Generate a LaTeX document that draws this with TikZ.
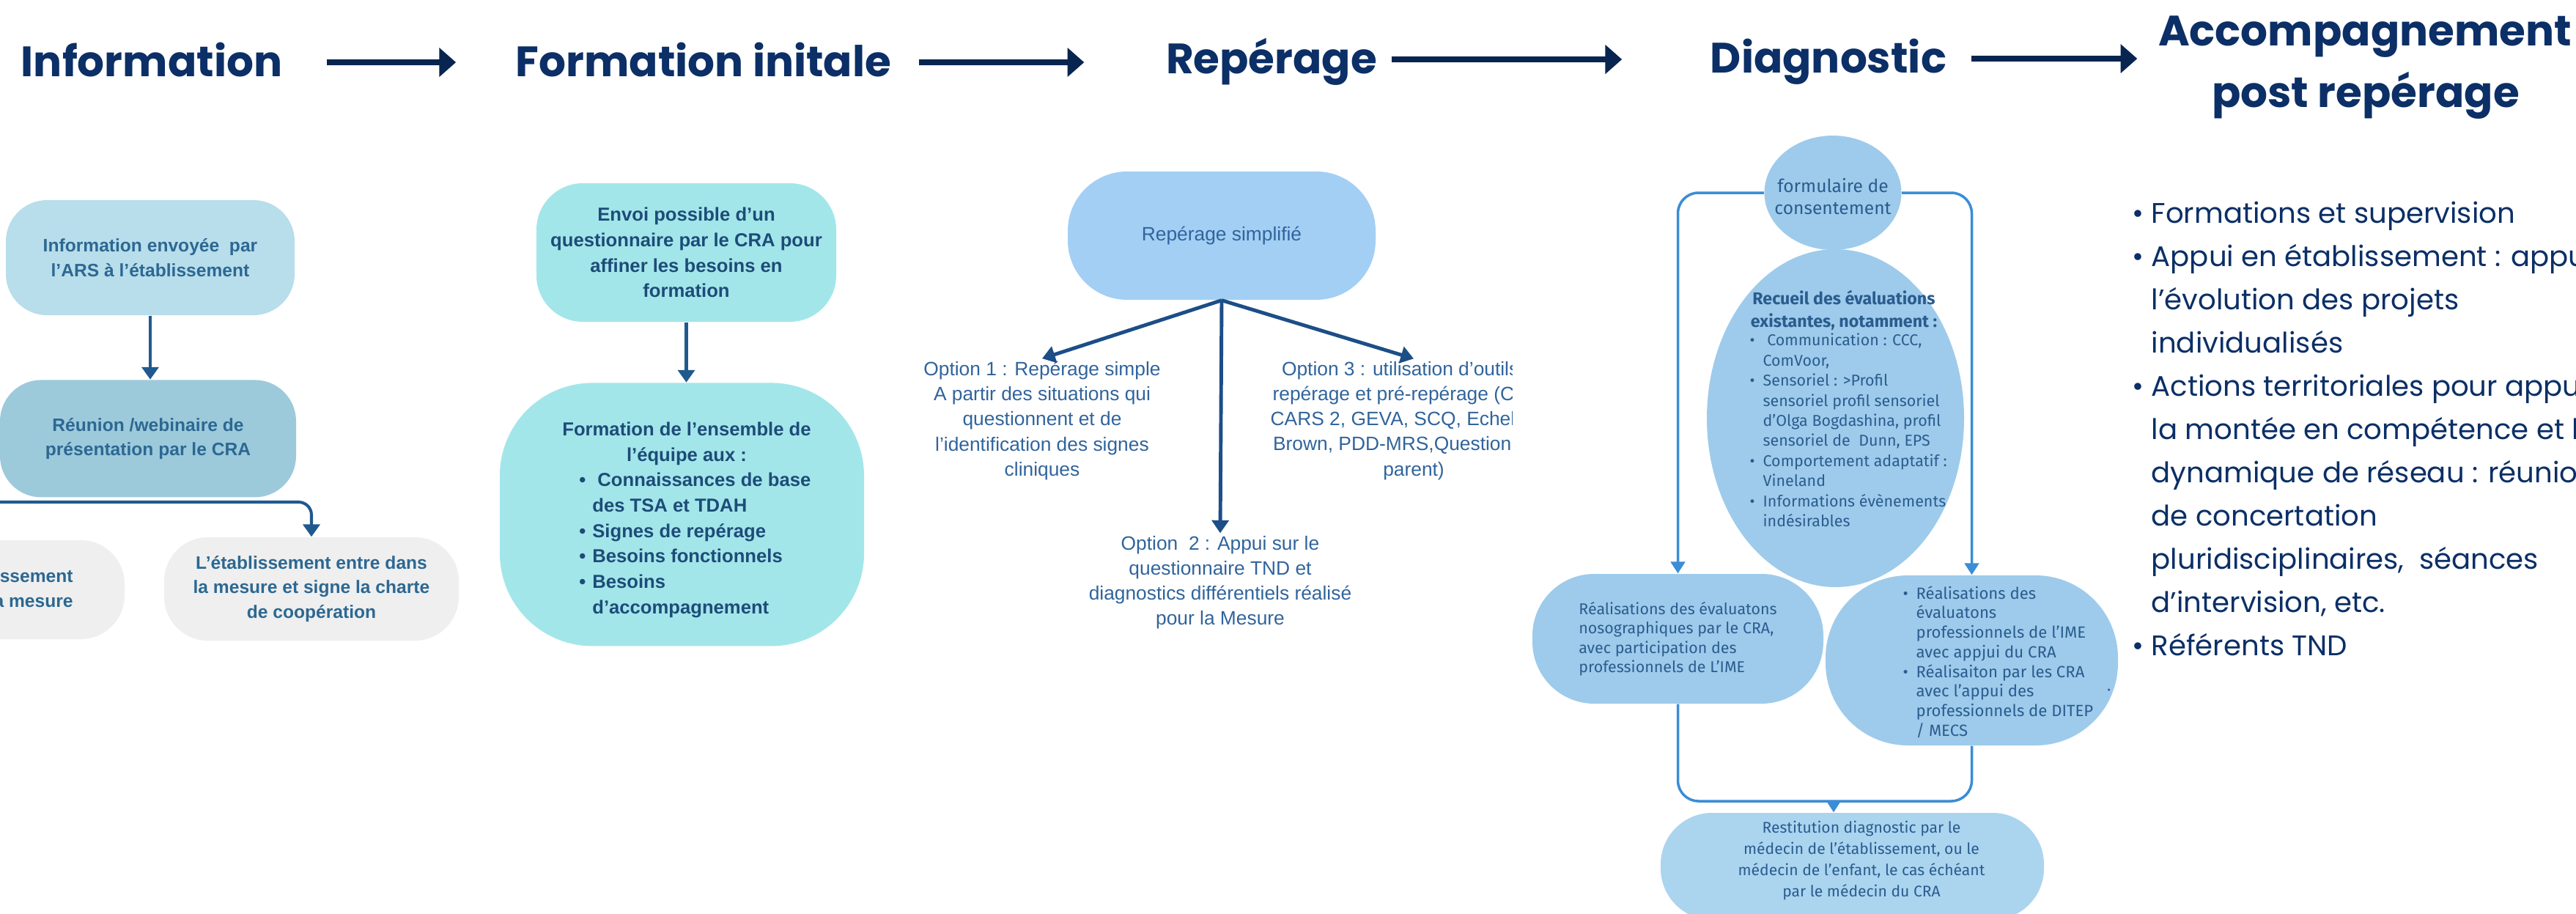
\documentclass[tikz,border=0pt]{standalone}
\usepackage{fontspec}
\usepackage{xcolor}
\usepackage{tikz}
\usetikzlibrary{positioning,shapes.geometric,arrows.meta}

\newfontfamily\headfont{Poppins}
\newfontfamily\boxfont{Liberation Sans}
\newfontfamily\diagfont{Fira Sans}

\definecolor{navy}{HTML}{0B2F66}
\definecolor{arrownavy}{HTML}{082550}
\definecolor{infoblue}{HTML}{B8DDEB}
\definecolor{infoteal}{HTML}{9DCADB}
\definecolor{infogrey}{HTML}{EFEFEF}
\definecolor{infoink}{HTML}{2C6892}
\definecolor{formcyan}{HTML}{A3E6EA}
\definecolor{formink}{HTML}{1D4C78}
\definecolor{flowblue}{HTML}{1F5A8E}
\definecolor{repblue}{HTML}{A3CFF4}
\definecolor{repink}{HTML}{30649C}
\definecolor{reparrow}{HTML}{1C4E87}
\definecolor{diagblue}{HTML}{9ECBEB}
\definecolor{restitblue}{HTML}{ABD4EF}
\definecolor{diagline}{HTML}{3A8DD6}
\definecolor{diagink}{HTML}{2A5C8F}

\newcommand{\itemdot}[1]{\makebox[#1][l]{\textbullet}}
\newcommand{\itemgap}[1]{\hspace*{#1}}

\begin{document}
\begin{tikzpicture}[
    head/.style={font=\headfont\bfseries\fontsize{16.5}{20}\selectfont, text=navy, anchor=base, inner sep=0pt, text height=10.8pt, text depth=0pt},
    steparrow/.style={draw=arrownavy, line width=2.3pt, -{Triangle[length=6.5pt, width=11pt]}},
    infotext/.style={align=center, text=infoink, font=\boxfont\bfseries\fontsize{7}{9.6}\selectfont},
    infobox/.style={infotext, rectangle, rounded corners=16pt, fill=infoblue, minimum width=3.94cm, minimum height=1.57cm},
    greybox/.style={infobox, fill=infogrey, rounded corners=17pt},
    formtext/.style={align=center, text=formink, font=\boxfont\bfseries\fontsize{7.3}{9.9}\selectfont},
    formbox/.style={formtext, rectangle, rounded corners=18pt, fill=formcyan},
    opttext/.style={align=center, text=repink, inner sep=1pt, font=\boxfont\fontsize{7.5}{9.7}\selectfont},
    repbox/.style={opttext, rectangle, rounded corners=23pt, fill=repblue, minimum width=4.2cm, minimum height=1.75cm},
    difftext/.style={text=diagink, inner sep=0pt, font=\diagfont\fontsize{6.3}{7.6}\selectfont},
    diagbox/.style={difftext, fill=diagblue, align=center},
    listtext/.style={align=left, text=navy, inner sep=0pt, font=\headfont\fontsize{11}{16.8}\selectfont},
    flow/.style={draw=flowblue, line width=1.15pt, -{Triangle[length=4.8pt, width=6.5pt]}},
    optarrow/.style={draw=reparrow, line width=1.4pt, -{Triangle[length=5pt, width=6.5pt]}},
    diagwire/.style={draw=diagline, line width=1pt, rounded corners=8pt},
    diagarrow/.style={diagwire, -{Triangle[length=4.5pt, width=5.5pt]}}
]

\path[use as bounding box, fill=white] (0,0) rectangle (35.15,-12.46);
\clip (0,0) rectangle (35.15,-12.46);

% steps
\node[head] (hinfo) at (2.07,-1.04) {Information};
\node[head] (hform) at (9.60,-1.04) {Formation initale};
\node[head] (hrep) at (17.35,-1.00) {Repérage};
\node[head] (hdiag) at (24.95,-0.99) {Diagnostic};
\node[head] (hacc) at (32.27,-0.62) {Accompagnement};
\node[head] (hpost) at (32.28,-1.46) {post repérage};

\draw[steparrow] ([xshift=0.60cm]hinfo.east) -- ([xshift=-0.81cm]hinfo.east -| hform.west);
\draw[steparrow] ([xshift=0.37cm]hform.east) -- ([xshift=-1.11cm]hform.east -| hrep.west);
\draw[steparrow] ([xshift=0.19cm]hrep.east) -- ([xshift=-1.20cm]hrep.east -| hdiag.west);
\draw[steparrow] ([xshift=0.33cm]hdiag.east) -- ([xshift=-0.28cm]hdiag.east -| hacc.west);

% information
\node[infobox] (info1) at (2.05,-3.515) {Information envoyée\ \ par\\l’ARS à l’établissement};
\node[infobox, fill=infoteal, minimum width=4.04cm, minimum height=1.6cm, below=0.87cm of info1, xshift=-0.03cm] (info2) {Réunion /webinaire de\\présentation par le CRA};
\coordinate (split) at (2.00,-6.85);
\node[greybox, minimum width=4.0cm, minimum height=1.35cm] (info3) at (-0.30,-8.045) {};
\node[infotext, align=right, anchor=east] (info3text) at (1.12,-8.05) {L’établissement\\n’entre pas dans la mesure};
\node[greybox, minimum width=4.02cm, minimum height=1.41cm] (info4) at (4.25,-8.035) {L’établissement entre dans\\la mesure et signe la charte\\de coopération};

\draw[flow] (info1.south) -- (info1.south |- info2.north);
\draw[flow, rounded corners=5pt] (split) -| (info4.north);
\draw[flow, rounded corners=5pt] (split) -| (info3.north);

% formation initiale
\node[formbox, minimum width=4.09cm, minimum height=1.89cm] (form1) at (9.365,-3.445) {Envoi possible d’un\\questionnaire par le CRA pour\\affiner les besoins en\\formation};
\node[formbox, rounded corners=36pt, minimum width=4.97cm, minimum height=3.59cm, below=0.82cm of form1, xshift=-0.06cm] (form2) {};
\node[formtext] (form2head) at (9.37,-6.055) {Formation de l’ensemble de\\l’équipe aux :};
\node[formtext, align=left, anchor=west] (form2list) at (7.78,-7.44) {\itemdot{5.1pt}\ Connaissances de base\\\itemgap{5.1pt}des TSA et TDAH\\\itemdot{5.1pt}Signes de repérage\\\itemdot{5.1pt}Besoins fonctionnels\\\itemdot{5.1pt}Besoins\\\itemgap{5.1pt}d’accompagnement};

\draw[flow] (form1.south) -- (form1.south |- form2.north);

% reperage
\node[repbox] (rep) at (16.67,-3.215) {Repérage simplifié};
\node[opttext] (opt1) at (14.22,-5.74) {Option 1 : Repérage simple\\A partir des situations qui\\questionnent et de\\l’identification des signes\\cliniques};
\node[opttext] (opt2) at (16.65,-7.95) {Option\ \ 2 : Appui sur le\\questionnaire TND et\\diagnostics différentiels réalisé\\pour la Mesure};
\begin{scope}
  \clip (17.1,-4.5) rectangle (20.63,-7.0);
  \node[opttext] (opt3) at (19.29,-5.74) {Option 3 : utilisation d’outils de\\repérage et pré-repérage (CHAT,\\CARS 2, GEVA, SCQ, Echelle de\\Brown, PDD-MRS,Questionnaire\\parent)};
\end{scope}

\draw[optarrow] (rep.south) -- (opt1.north);
\draw[optarrow] (rep.south) -- (opt2.north);
\draw[optarrow] (rep.south) -- (opt3.north);

% diagnostic
\node[diagbox, ellipse, minimum width=1.87cm, minimum height=1.56cm] (consent) at (25.01,-2.63) {};
\node[difftext, align=center, font=\diagfont\fontsize{7}{8.5}\selectfont] (consenttext) at ([yshift=-0.05cm]consent.center) {formulaire de\\consentement};
\node[diagbox, ellipse, minimum width=3.51cm, minimum height=4.61cm] (recueil) at (25.045,-5.705) {};
\node[difftext, align=center, font=\diagfont\bfseries\fontsize{6.6}{8.8}\selectfont] (recueilhead) at (25.16,-4.235) {Recueil des évaluations\\existantes, notamment :};
\node[difftext, align=left, anchor=west, font=\diagfont\fontsize{6.1}{7.8}\selectfont] (recueillist) at (23.87,-5.87) {\itemdot{5.1pt}\ Communication : CCC,\\\itemgap{5.1pt}ComVoor,\\\itemdot{5.1pt}Sensoriel : >Profil\\\itemgap{5.1pt}sensoriel profil sensoriel\\\itemgap{5.1pt}d’Olga Bogdashina, profil\\\itemgap{5.1pt}sensoriel de\ \ Dunn, EPS\\\itemdot{5.1pt}Comportement adaptatif :\\\itemgap{5.1pt}Vineland\\\itemdot{5.1pt}Informations évènements\\\itemgap{5.1pt}indésirables};

\node[diagbox, rounded corners=24pt, minimum width=3.97cm, minimum height=1.77cm, align=left, font=\diagfont\fontsize{6.1}{7.5}\selectfont] (real1) at (22.895,-8.715) {Réalisations des évaluatons\\nosographiques par le CRA,\\avec participation des\\professionnels de L’IME};
\node[diagbox, rounded corners=32pt, minimum width=3.99cm, minimum height=2.32cm] (real2) at (26.905,-9.01) {};
\node[difftext, align=left, anchor=west] (real2list) at (25.96,-9.03) {\itemdot{5.1pt}Réalisations des\\\itemgap{5.1pt}évaluatons\\\itemgap{5.1pt}professionnels de l’IME\\\itemgap{5.1pt}avec appjui du CRA\\\itemdot{5.1pt}Réalisaiton par les CRA\\\itemgap{5.1pt}avec l’appui des\\\itemgap{5.1pt}professionnels de DITEP\\\itemgap{5.1pt}/ MECS};
\fill[diagink] (28.775,-9.41) circle (0.5pt);

\node[diagbox, fill=restitblue, rounded corners=20pt, minimum width=5.23cm, minimum height=1.46cm] (restit) at (25.275,-11.82) {};
\node[difftext, align=center, font=\diagfont\fontsize{6.0}{8.3}\selectfont] (restittext) at (25.40,-11.74) {Restitution diagnostic par le\\médecin de l’établissement, ou le\\médecin de l’enfant, le cas échéant\\par le médecin du CRA};

\draw[diagarrow] (consent.west) -| (real1.north);
\draw[diagarrow] (consent.east) -| (real2.north);
\coordinate (join) at (25.02,-10.93);
\draw[diagwire] (real1.south) |- (join) -| (real2.south);
\draw[diagarrow] (join) -- (join |- restit.north);

% accompagnement
\node[listtext, anchor=west] (acclist) at (29.09,-5.85) {\itemdot{7.4pt}Formations et supervision\\\itemdot{7.4pt}Appui en établissement : appui à\\\itemgap{7.4pt}l’évolution des projets\\\itemgap{7.4pt}individualisés\\\itemdot{7.4pt}Actions territoriales pour appuyer\\\itemgap{7.4pt}la montée en compétence et la\\\itemgap{7.4pt}dynamique de réseau : réunions\\\itemgap{7.4pt}de concertation\\\itemgap{7.4pt}pluridisciplinaires,\ \ séances\\\itemgap{7.4pt}d’intervision, etc.\\\itemdot{7.4pt}Référents TND};

\end{tikzpicture}
\end{document}
